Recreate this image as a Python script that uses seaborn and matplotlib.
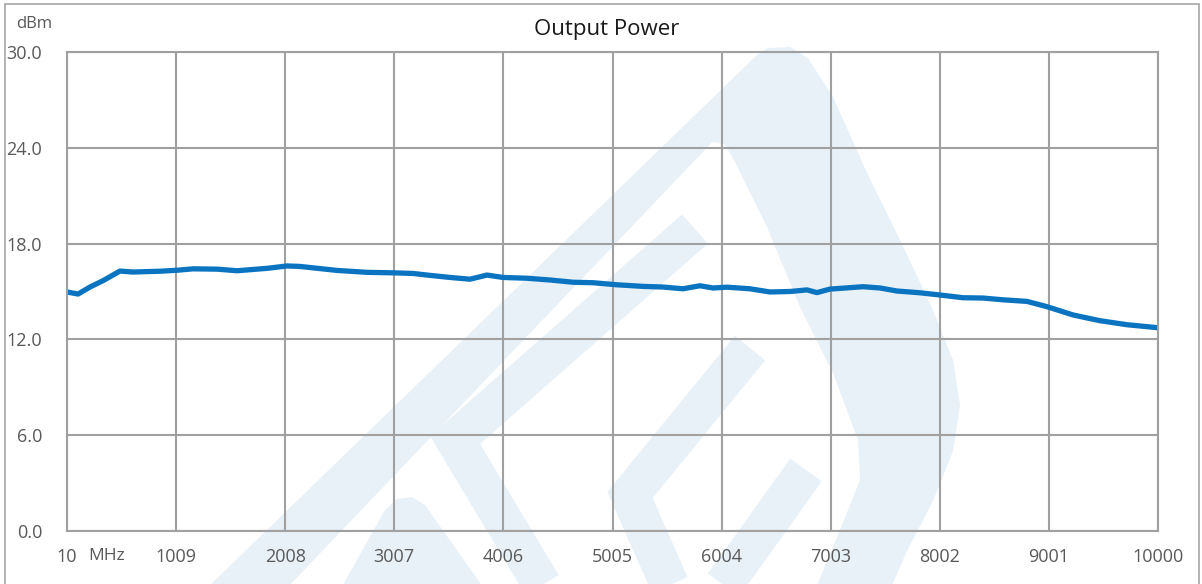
import matplotlib
matplotlib.use('Agg')
import matplotlib.pyplot as plt
from matplotlib.patches import Polygon, Rectangle
from matplotlib.lines import Line2D
import seaborn as sns
import pandas as pd

# frequency (MHz) and output power (dBm)
freq = [10, 111, 221, 340, 495, 614, 862, 1017, 1164, 1384, 1567, 1841, 2024, 2143,
        2482, 2757, 2995, 3178, 3306, 3517, 3700, 3856, 4002, 4222, 4433, 4643, 4826,
        5046, 5284, 5467, 5650, 5806, 5925, 6053, 6264, 6447, 6630, 6786, 6877, 6996,
        7299, 7454, 7610, 7820, 8004, 8214, 8397, 8581, 8800, 8983, 9222, 9469, 9716, 10000]
power = [14.97, 14.84, 15.28, 15.68, 16.28, 16.22, 16.27, 16.33, 16.42, 16.40, 16.30, 16.45,
         16.60, 16.57, 16.32, 16.20, 16.17, 16.13, 16.03, 15.88, 15.77, 16.03, 15.88, 15.83,
         15.72, 15.58, 15.55, 15.42, 15.32, 15.28, 15.17, 15.36, 15.22, 15.27, 15.17, 14.97,
         15.00, 15.10, 14.93, 15.15, 15.30, 15.22, 15.03, 14.92, 14.78, 14.61, 14.59, 14.48,
         14.38, 14.05, 13.53, 13.17, 12.92, 12.73]

x_ticks = [10, 1009, 2008, 3007, 4006, 5005, 6004, 7003, 8002, 9001, 10000]
y_ticks = [0, 6, 12, 18, 24, 30]
y_labels = ['0.0', '6.0', '12.0', '18.0', '24.0', '30.0']

df = pd.DataFrame({'freq': freq, 'power': power})

sns.set_theme(style='white')
plt.rcParams['font.family'] = ['Open Sans', 'DejaVu Sans']

W, H = 1202, 584
fig = plt.figure(figsize=(W / 100, H / 100), dpi=100)
ax = fig.add_axes([67 / W, 1 - 531 / H, (1158 - 67) / W, (531 - 52) / H])
ax.set_facecolor('none')


def px(x, y):
    return (x / W, 1 - y / H)


# faint logo watermark behind the chart
wm = '#E8F0F8'
outer = [(205, 590), (757, 55), (768, 48), (790, 47), (808, 58), (833, 97), (867, 173),
         (900, 240), (933, 310), (953, 360), (960, 405), (953, 451), (933, 501),
         (907, 551), (890, 590)]
inner = [(285, 590), (700, 155), (712, 142), (724, 144), (732, 156), (767, 227),
         (800, 307), (833, 373), (858, 440), (860, 480), (840, 530), (815, 590)]
bump = [(340, 590), (385, 510), (397, 499), (412, 497), (425, 505), (485, 590)]
for pts, c, z in [(outer, wm, -5), (inner, 'white', -4), (bump, wm, -3)]:
    fig.add_artist(Polygon([px(*p) for p in pts], closed=True, facecolor=c,
                           edgecolor='none', transform=fig.transFigure, zorder=z))
for pts in [[(695, 229), (455, 440), (545, 590)],
            [(750, 348), (630, 495), (672, 590)],
            [(806, 470), (720, 590)]]:
    xs, ys = zip(*[px(*p) for p in pts])
    fig.add_artist(Line2D(xs, ys, color=wm, lw=28, solid_joinstyle='miter',
                          solid_capstyle='butt', transform=fig.transFigure, zorder=-3))

# outer frame
fig.add_artist(Rectangle(px(5, 600), (1199 - 5) / W, (600 - 4) / H, fill=False,
                         edgecolor='#A6A6A6', lw=1.2, transform=fig.transFigure, zorder=-2))

sns.lineplot(data=df, x='freq', y='power', ax=ax, color='#0A74C1', linewidth=3.8)

ax.set_xlim(10, 10000)
ax.set_ylim(0, 30)
ax.set_xticks(x_ticks)
ax.set_xticklabels([str(v) for v in x_ticks])
ax.set_yticks(y_ticks)
ax.set_yticklabels(y_labels)
ax.grid(True, color='#A0A0A0', linewidth=1.5)
ax.set_axisbelow(True)
for s in ax.spines.values():
    s.set_color('#A0A0A0')
    s.set_linewidth(1.5)
ax.tick_params(axis='both', length=0, labelsize=13, labelcolor='#595959')
ax.tick_params(axis='x', pad=12)
ax.tick_params(axis='y', pad=18)
ax.set_xlabel('')
ax.set_ylabel('')

fig.text(607 / W, 1 - 30 / H, 'Output Power', ha='center', va='center', fontsize=16,
         color='#1A1A1A')
fig.text(34 / W, 1 - 24 / H, 'dBm', ha='center', va='center', fontsize=12, color='#595959')
fig.text(107 / W, 1 - 556 / H, 'MHz', ha='center', va='center', fontsize=12.5,
         color='#595959')

fig.savefig('out.png', dpi=100)
